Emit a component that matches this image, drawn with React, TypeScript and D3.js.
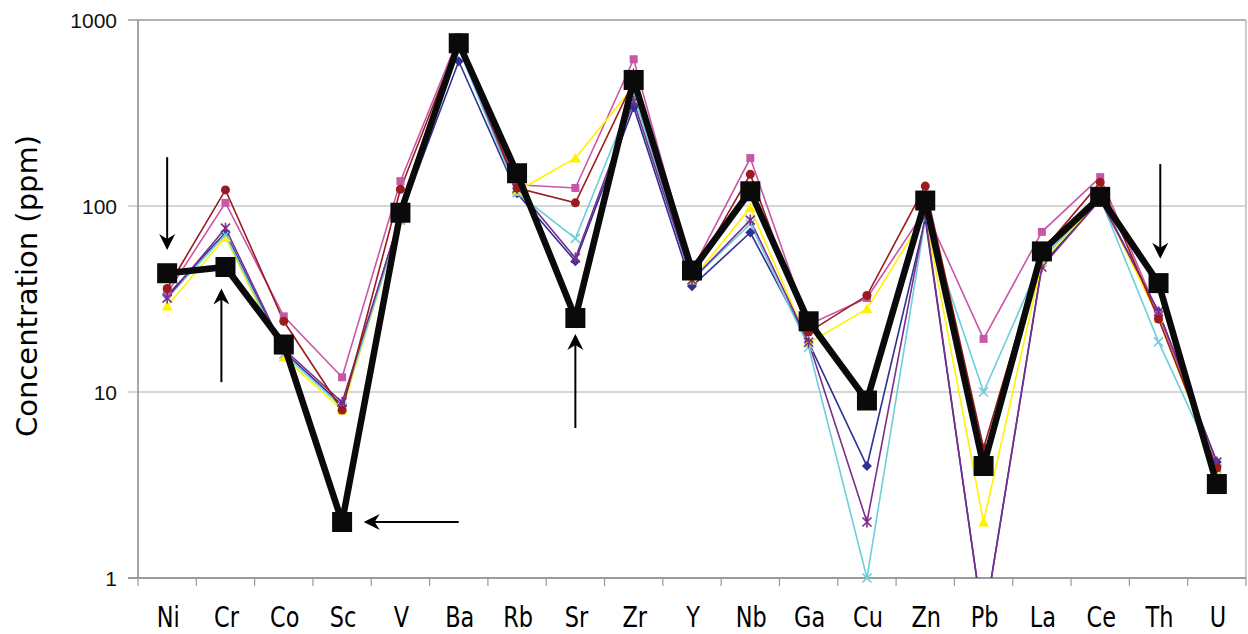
import React from 'react';
import * as d3 from 'd3';

const W = 1248;
const H = 634;

const elements = ['Ni', 'Cr', 'Co', 'Sc', 'V', 'Ba', 'Rb', 'Sr', 'Zr', 'Y', 'Nb', 'Ga', 'Cu', 'Zn', 'Pb', 'La', 'Ce', 'Th', 'U'];

// samples (ppm)
const navy = [33, 72, 16.5, 8.5, 88, 600, 117, 50.5, 340, 37, 72, 18.5, 4, 85, 0.55, 48, 110, 27, 4.2];
const magenta = [34, 104, 25.5, 12, 136, 810, 130, 125, 615, 45, 181, 23, 32, 95, 19.3, 72.6, 143, 26, 3.9];
const yellow = [29, 68, 15.4, 8, 84, 720, 120, 181, 440, 40, 98, 18.3, 28, 90, 2, 50, 110, 25, 3.76];
const cyan = [32, 70, 16, 8.3, 84, 700, 118, 67, 400, 40, 80, 17.4, 1, 85, 10, 52, 110, 18.6, 3.9];
const purple = [32, 76, 17, 8.8, 88, 720, 125, 52.5, 365, 40, 84, 18.5, 2, 88, 0.55, 47, 108, 27, 4.2];
const darkred = [36, 122, 24, 8, 123, 780, 125, 104, 470, 42, 148, 21, 33, 128, 5, 57, 134, 24.7, 3.9];
const bold = [43.5, 47, 18, 2, 92, 750, 150, 25, 476, 45, 120, 24, 9, 107, 4, 57, 112, 38.5, 3.2];

const yTicks = [1, 10, 100, 1000];

// arrows: category index + value at tail and tip
const arrows = [
  { fromI: 0, fromV: 183, toI: 0, toV: 58 },
  { fromI: 0.93, fromV: 11.3, toI: 0.93, toV: 36 },
  { fromI: 7, fromV: 6.4, toI: 7, toV: 20.5 },
  { fromI: 17.03, fromV: 168, toI: 17.03, toV: 52 },
  { fromI: 5, fromV: 2, toI: 3.37, toV: 2 },
];

const series = [
  { values: navy, color: '#2e3192', marker: 'diamond' },
  { values: magenta, color: '#c957a9', marker: 'square' },
  { values: yellow, color: '#fff200', marker: 'triangle' },
  { values: cyan, color: '#6dcfdc', marker: 'x' },
  { values: purple, color: '#7b2d8e', marker: 'star' },
  { values: darkred, color: '#9b1b1e', marker: 'circle' },
];

const left = 138, right = 1246, top = 20, bottom = 578;

function Marker({ kind, cx, cy, color }) {
  if (kind === 'diamond') return <path d={`M${cx},${cy - 5}L${cx + 5},${cy}L${cx},${cy + 5}L${cx - 5},${cy}Z`} fill={color} />;
  if (kind === 'square') return <rect x={cx - 4} y={cy - 4} width={8} height={8} fill={color} />;
  if (kind === 'triangle') return <path d={`M${cx},${cy - 5}L${cx + 5.5},${cy + 4.5}L${cx - 5.5},${cy + 4.5}Z`} fill={color} />;
  if (kind === 'circle') return <circle cx={cx} cy={cy} r={4.5} fill={color} />;
  const s = 4.5;
  const xs = `M${cx - s},${cy - s}L${cx + s},${cy + s}M${cx - s},${cy + s}L${cx + s},${cy - s}`;
  if (kind === 'x') return <path d={xs} stroke={color} strokeWidth={1.6} fill="none" />;
  return <path d={xs + `M${cx},${cy - s - 1}L${cx},${cy + s + 1}`} stroke={color} strokeWidth={1.6} fill="none" />;
}

export default function App() {
  const x = d3.scalePoint().domain(elements).range([left, right]).padding(0.5);
  const y = d3.scaleLog().domain([1, 1000]).range([bottom, top]);
  const xi = d3.scaleLinear().domain([0, elements.length - 1]).range([x(elements[0]), x(elements[elements.length - 1])]);
  const line = d3.line().x((d, i) => x(elements[i])).y(d => y(d));
  const band = x.step();

  return (
    <svg width={W} height={H} style={{ position: 'absolute', left: 0, top: 0, background: '#fff' }}>
      <defs>
        <clipPath id="plot">
          <rect x={left} y={top} width={right - left} height={bottom - top} />
        </clipPath>
      </defs>

      {/* grid */}
      {yTicks.map(t => (
        <g key={t}>
          <line x1={left - 10} x2={right} y1={y(t)} y2={y(t)} stroke={t === 1000 ? '#999' : '#c8c8c8'} strokeWidth={1.5} />
          <text x={117} y={y(t)} dy="0.36em" textAnchor="end" fontFamily="Liberation Sans, Arial, sans-serif" fontSize={21} fill="#111">{t}</text>
        </g>
      ))}
      <line x1={right} x2={right} y1={top} y2={bottom} stroke="#bbb" strokeWidth={1.5} />
      <line x1={left} x2={left} y1={top} y2={bottom} stroke="#888" strokeWidth={1.5} />
      <line x1={left - 10} x2={right} y1={bottom} y2={bottom} stroke="#888" strokeWidth={1.5} />
      {d3.range(elements.length + 1).map(i => (
        <line key={i} x1={left + i * band} x2={left + i * band} y1={bottom} y2={bottom + 8} stroke="#999" strokeWidth={1.2} />
      ))}

      {elements.map(e => (
        <text key={e} transform={`translate(${x(e) + 1},627) scale(0.86,1)`} textAnchor="middle" fontFamily="DejaVu Sans Condensed, DejaVu Sans, sans-serif" fontSize={29} fill="#000">{e}</text>
      ))}

      <text transform={`translate(37,286) rotate(-90)`} textAnchor="middle" fontFamily="DejaVu Sans, sans-serif" fontSize={29} fill="#000">Concentration (ppm)</text>

      <g clipPath="url(#plot)">
        {series.map((s, k) => (
          <path key={k} d={line(s.values)} fill="none" stroke={s.color} strokeWidth={1.6} />
        ))}
      </g>
      {series.map((s, k) => (
        <g key={k}>
          {s.values.map((v, i) => v >= 1 ? (
            <Marker key={i} kind={s.marker} cx={x(elements[i])} cy={y(v)} color={s.color} />
          ) : null)}
        </g>
      ))}

      <path d={line(bold)} fill="none" stroke="#0a0a0a" strokeWidth={6.5} strokeLinejoin="miter" />
      {bold.map((v, i) => (
        <rect key={i} x={x(elements[i]) - 10} y={y(v) - 10} width={20} height={20} fill="#0a0a0a" />
      ))}

      {arrows.map((a, k) => {
        const x1 = xi(a.fromI), y1 = y(a.fromV), x2 = xi(a.toI), y2 = y(a.toV);
        const ang = Math.atan2(y2 - y1, x2 - x1) * 180 / Math.PI;
        const len = Math.hypot(x2 - x1, y2 - y1);
        return (
          <g key={k} transform={`translate(${x1},${y1}) rotate(${ang})`}>
            <line x1={0} y1={0} x2={len - 8} y2={0} stroke="#000" strokeWidth={2} />
            <path d={`M${len},0L${len - 16},-8L${len - 11},0L${len - 16},8Z`} fill="#000" />
          </g>
        );
      })}
    </svg>
  );
}
